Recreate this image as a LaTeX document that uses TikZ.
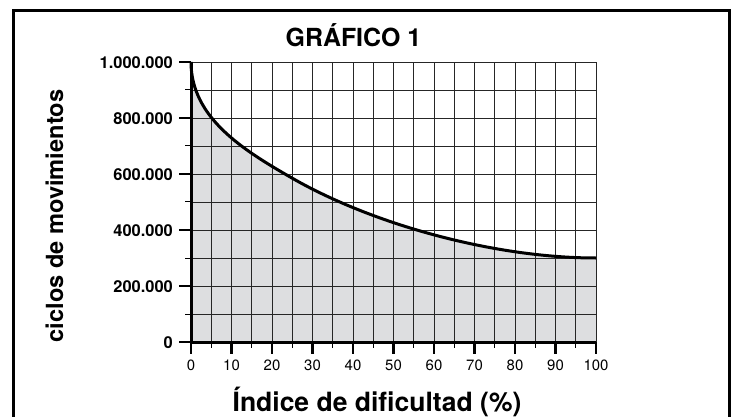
\documentclass[tikz,border=0pt]{standalone}
\usepackage{fontspec}
\setmainfont{TeX Gyre Heros}
\definecolor{areagray}{RGB}{221,222,224}
\begin{document}
\begin{tikzpicture}[
    x=4.05bp, y=28bp,
    frame/.style={line width=2.7bp},
    gridline/.style={line width=0.9bp, black!85},
    axis/.style={line width=3bp},
    major/.style={line width=2.6bp},
    minor/.style={line width=1bp},
    curve/.style={line width=3bp, line join=round},
    ylabel/.style={anchor=east, inner sep=0pt, font=\fontsize{16.5}{18}\selectfont\bfseries},
    xlabel/.style={anchor=base, inner sep=0pt, font=\fontsize{15}{17}\selectfont}
]
    \useasboundingbox (-47.16,-2.643) rectangle (134.07,12.214);

    % Frame
    \draw[frame] (-43.83,-3) |- (132.96,11.846) -- (132.96,-3);

    % Area under the curve
    \fill[areagray] (0,0) -- (0,10) .. controls (0,8) and (13,6.846) .. (25,5.85)
        .. controls (45,4.19) and (75,3) .. (100,3) -- (100,0) -- cycle;

    % Grid
    \foreach \x in {5,10,...,100}
        \draw[gridline] (\x,0) -- (\x,10);
    \foreach \y in {1,...,10}
        \draw[gridline] (0,\y) -- (100,\y);

    % Curve
    \draw[curve] (0,10) .. controls (0,8) and (13,6.846) .. (25,5.85)
        .. controls (45,4.19) and (75,3) .. (100,3);

    % Ticks
    \foreach \x in {5,15,...,95}
        \draw[minor] (\x,0) -- (\x,-0.214);
    \foreach \y in {1,3,...,9}
        \draw[minor] (0,\y) -- (-1.48,\y);
    \foreach \x in {0,10,...,100}
        \draw[major] (\x,0) -- (\x,-0.4286);
    \foreach \y in {0,2,...,10}
        \draw[major] (0,\y) -- (-2.963,\y);

    % Axes
    \draw[axis] (0,10) -- (0,0) -- (100,0);

    % Tick labels
    \foreach \x in {0,10,...,100}
        \node[xlabel] (xlab\x) at (\x,-1.025) {\x};
    \foreach \y/\txt in {0/0, 2/200.000, 4/400.000, 6/600.000, 8/800.000, 10/1.000.000}
        \node[ylabel] (ylab\y) at (-4.44,\y-0.03) {\txt};

    % Titles
    \node[anchor=base, inner sep=0pt, font=\fontsize{25}{30}\selectfont\bfseries] (title) at (40.1,10.536) {GRÁFICO 1};
    \node[anchor=base, inner sep=0pt, font=\fontsize{26.6}{30}\selectfont\bfseries] (xtitle) at (45.93,-2.489) {Índice de dificultad (\%)};
    \node[anchor=base, rotate=90, inner sep=0pt, font=\fontsize{23.7}{28}\selectfont\bfseries] (ytitle) at (-31.6,4.5) {ciclos de movimientos};

\end{tikzpicture}
\end{document}
